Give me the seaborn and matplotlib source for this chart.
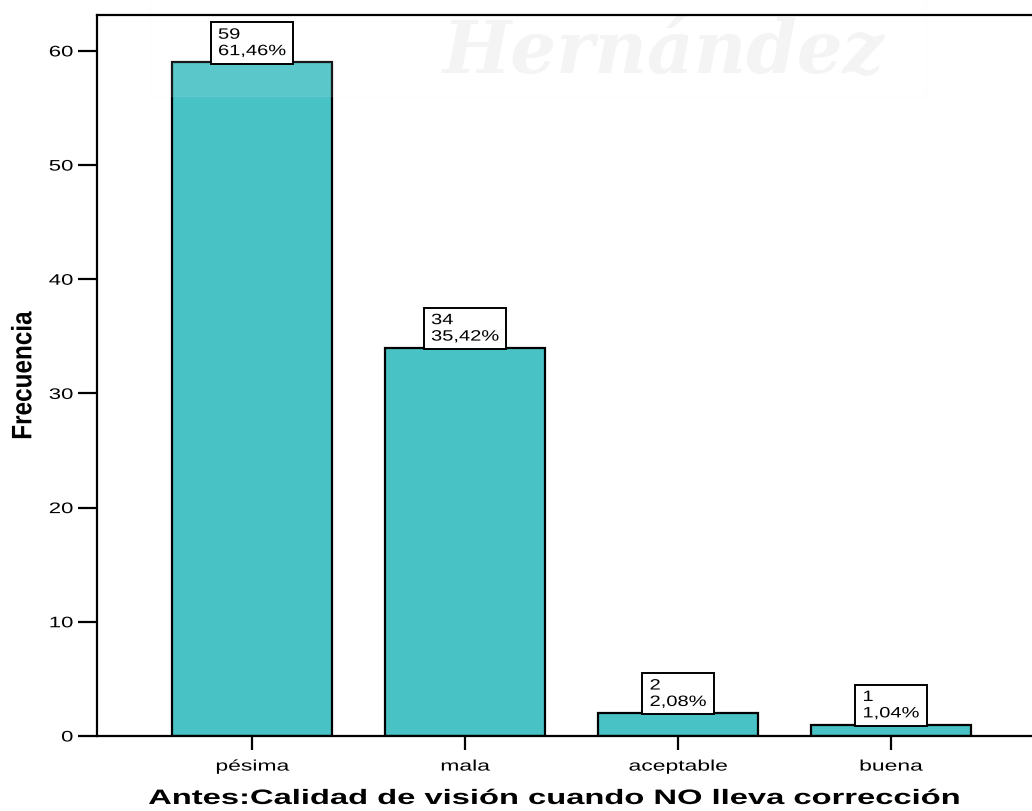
import matplotlib
matplotlib.use("Agg")
import matplotlib.pyplot as plt
from matplotlib.patches import Rectangle
from matplotlib.patheffects import AbstractPathEffect
from matplotlib.transforms import Affine2D, ScaledTranslation
import seaborn as sns

categorias = ["pésima", "mala", "aceptable", "buena"]
frecuencias = [59, 34, 2, 1]
porcentajes = [61.46, 35.42, 2.08, 1.04]
marcas_y = [0, 10, 20, 30, 40, 50, 60]


class EstiramientoH(AbstractPathEffect):
    """Widen a text artist horizontally about an anchor of its own box."""

    def __init__(self, texto, factor, ancla="center"):
        super().__init__()
        self.texto = texto
        self.factor = factor
        self.ancla = ancla

    def draw_path(self, renderer, gc, tpath, affine, rgbFace=None):
        caja = self.texto.get_window_extent(renderer)
        if self.ancla == "right":
            cx = caja.x1
        elif self.ancla == "left":
            cx = caja.x0
        else:
            cx = 0.5 * (caja.x0 + caja.x1)
        t = affine + Affine2D().translate(-cx, 0).scale(self.factor, 1).translate(cx, 0)
        renderer.draw_path(gc, tpath, t, rgbFace)


sns.set_theme(style="white")
plt.rcParams["font.family"] = ["Liberation Sans", "DejaVu Sans"]

fig = plt.figure(figsize=(10.32, 8.12), dpi=100)
ax = fig.add_axes([0.094, 0.0924, 0.906, 0.888])

sns.barplot(x=categorias, y=frecuencias, color="#48C2C5", saturation=1,
            width=0.75, edgecolor="black", linewidth=1.6, ax=ax, zorder=2)

ax.set_xlim(-0.728, 3.662)
ax.set_ylim(0, 63.15)
ax.set_yticks(marcas_y)

# value boxes: count and percentage above each bar
desplazamiento = ScaledTranslation(0, 3 / 72, fig.dpi_scale_trans)
for i, (n, p) in enumerate(zip(frecuencias, porcentajes)):
    etiqueta = f"{n}\n{p:.2f}%".replace(".", ",")
    t = ax.text(i, n, etiqueta, transform=ax.transData + desplazamiento,
                ha="center", va="bottom", multialignment="left",
                fontsize=10.8, color="black", zorder=4, linespacing=1.22,
                bbox=dict(boxstyle="square,pad=0.36", facecolor="white",
                          edgecolor="black", linewidth=1.4))
    t.set_path_effects([EstiramientoH(t, 1.34)])
    t.get_bbox_patch().set_path_effects([EstiramientoH(t, 1.34)])

for lado in ["left", "bottom", "top"]:
    ax.spines[lado].set_visible(True)
    ax.spines[lado].set_color("black")
    ax.spines[lado].set_linewidth(1.6)
    ax.spines[lado].set_zorder(3.5)
ax.spines["right"].set_visible(False)

ax.tick_params(axis="y", which="major", direction="out", length=13.5, width=1.6,
               color="black", labelsize=11, labelcolor="black", left=True, pad=3.5)
ax.tick_params(axis="x", which="major", direction="out", length=10, width=1.6,
               color="black", labelsize=11, labelcolor="black", bottom=True, pad=7)

for lbl in ax.get_yticklabels():
    lbl.set_path_effects([EstiramientoH(lbl, 1.45, "right")])
for lbl in ax.get_xticklabels():
    lbl.set_path_effects([EstiramientoH(lbl, 1.5)])

ax.set_xlabel("Antes:Calidad de visión cuando NO lleva corrección",
              fontsize=15, fontweight="bold", color="black")
ax.xaxis.set_label_coords(0.491, -0.0735)
ax.xaxis.label.set_path_effects([EstiramientoH(ax.xaxis.label, 1.57)])

ax.set_ylabel("Frecuencia", fontsize=17.5, fontweight="bold", color="black")
ax.yaxis.set_label_coords(-0.066, 0.5)
ax.yaxis.label.set_path_effects([EstiramientoH(ax.yaxis.label, 1.16)])

# faint institutional watermark across the top
ax.add_patch(Rectangle((150 / 1032, 1 - 97 / 812), 775 / 1032, 97 / 812,
                       transform=fig.transFigure, facecolor="white", alpha=0.1,
                       edgecolor="#ececec", linewidth=1.0, clip_on=False, zorder=3))
ax.text(443 / 1032, 1 - 73 / 812, "Hernández", transform=fig.transFigure,
        fontsize=52, fontstyle="italic", fontweight="bold", family=["DejaVu Serif"],
        color="#c8c8c8", alpha=0.2, ha="left", va="baseline", zorder=3,
        clip_on=False)

fig.savefig("out.png", dpi=100)
